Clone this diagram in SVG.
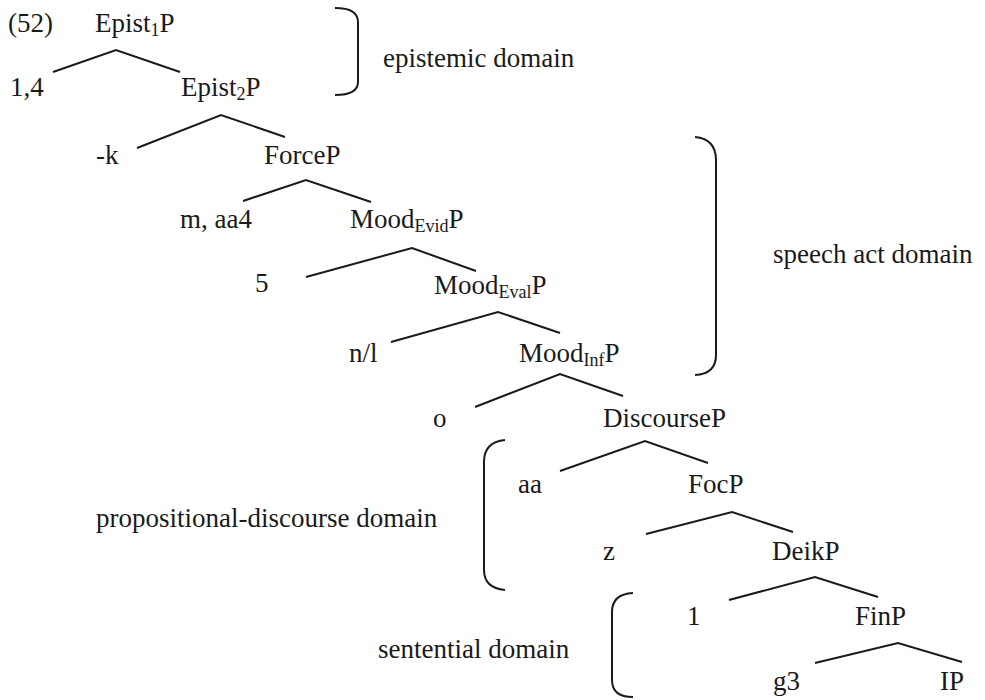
<svg xmlns="http://www.w3.org/2000/svg" width="985" height="700" viewBox="0 0 985 700">
<style>
text{font-family:"Liberation Serif","Times New Roman",serif;font-size:27px;fill:#1a1a1a}
.sub{font-size:18px}
.edge{fill:none;stroke:#1a1a1a;stroke-width:2;stroke-linejoin:miter}
.br{fill:none;stroke:#1a1a1a;stroke-width:2}
</style>
<rect width="985" height="700" fill="#fff"/>
<text x="8" y="32">(52)</text>
<g id="connectors">
<polyline class="edge" points="53,72 116,50 180,72"/>
<polyline class="edge" points="137,148 221,115 285,137"/>
<polyline class="edge" points="243,201 306,180 371,202"/>
<polyline class="edge" points="306,277 412,248 476,271"/>
<polyline class="edge" points="391,342 498,312 560,333"/>
<polyline class="edge" points="475,407 560,374 623,396"/>
<polyline class="edge" points="560,471 645,441 708,463"/>
<polyline class="edge" points="646,534 732,512 793,532"/>
<polyline class="edge" points="729,600 815,577 878,597"/>
<polyline class="edge" points="815,663 898,643 962,662"/>
</g>
<g id="n-epist1"><text x="95" y="32">Epist<tspan class="sub" dy="4">1</tspan><tspan dy="-4">P</tspan></text></g>
<g id="n-14"><text x="10" y="96">1,4</text></g>
<g id="n-epist2"><text x="181" y="96">Epist<tspan class="sub" dy="4">2</tspan><tspan dy="-4">P</tspan></text></g>
<g id="n-k"><text x="96" y="164">-k</text></g>
<g id="n-force"><text x="264" y="164">ForceP</text></g>
<g id="n-maa4"><text x="180" y="228">m, aa4</text></g>
<g id="n-moodevid"><text x="350" y="228">Mood<tspan class="sub" dy="4">Evid</tspan><tspan dy="-4">P</tspan></text></g>
<g id="n-5"><text x="255" y="292">5</text></g>
<g id="n-moodeval"><text x="434" y="294">Mood<tspan class="sub" dy="4">Eval</tspan><tspan dy="-4">P</tspan></text></g>
<g id="n-nl"><text x="349" y="362">n/l</text></g>
<g id="n-moodinf"><text x="519" y="362">Mood<tspan class="sub" dy="4">Inf</tspan><tspan dy="-4">P</tspan></text></g>
<g id="n-o"><text x="433" y="427">o</text></g>
<g id="n-discourse"><text x="603" y="427">DiscourseP</text></g>
<g id="n-aa"><text x="518" y="493">aa</text></g>
<g id="n-foc"><text x="688" y="493">FocP</text></g>
<g id="n-z"><text x="603" y="560">z</text></g>
<g id="n-deik"><text x="772" y="560">DeikP</text></g>
<g id="n-1"><text x="687" y="625">1</text></g>
<g id="n-fin"><text x="855" y="625">FinP</text></g>
<g id="n-g3"><text x="773" y="690">g3</text></g>
<g id="n-ip"><text x="940" y="690">IP</text></g>
<g id="b-epistemic">
<path class="br" d="M335,8 Q358,8 358,22 V82 Q358,95 335,95"/>
<text x="383" y="67">epistemic domain</text>
</g>
<g id="b-speech">
<path class="br" d="M695,137 Q716,139 716,160 V355 Q716,374 695,375"/>
<text x="773" y="263">speech act domain</text>
</g>
<g id="b-prop">
<path class="br" d="M505,440 Q484,442 484,462 V570 Q484,588 505,590"/>
<text x="96" y="527">propositional-discourse domain</text>
</g>
<g id="b-sent">
<path class="br" d="M633,593 Q612,594 612,612 V680 Q612,697 633,697"/>
<text x="378" y="658">sentential domain</text>
</g>
</svg>
